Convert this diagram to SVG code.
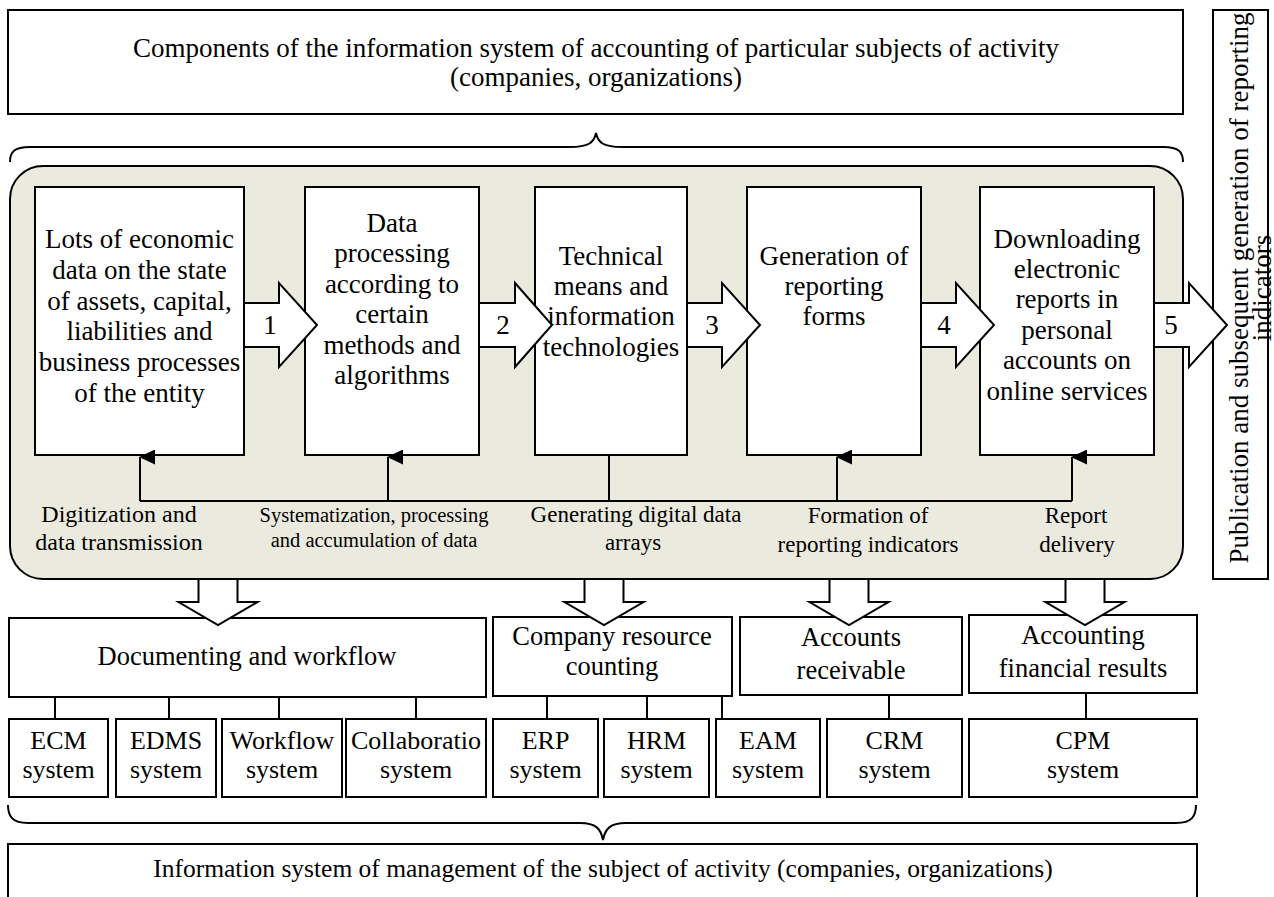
<svg xmlns="http://www.w3.org/2000/svg" width="1274" height="897" viewBox="0 0 1274 897">
<defs>
<style>
.b{fill:#fff;stroke:#000;stroke-width:2}
.t{font-family:"Liberation Serif","Times New Roman",serif;fill:#000;text-anchor:middle}
.f27{font-size:27px}
.f26{font-size:26px}
.f265{font-size:26.5px}
.f25{font-size:25.5px}
.f24{font-size:24px}
.f23{font-size:23px}
.f21{font-size:20.5px}
.ln{fill:none;stroke:#000;stroke-width:2}
.ar{fill:#fff;stroke:#000;stroke-width:2;stroke-linejoin:miter}
</style>
<marker id="tri" markerWidth="15" markerHeight="16" refX="7.5" refY="1" orient="auto-start-reverse" markerUnits="userSpaceOnUse" viewBox="0 0 15 16">
<path d="M0,16 L7.5,0 L15,16 Z" fill="#000"/>
</marker>
</defs>
<rect width="1274" height="897" fill="#fff"/>

<g id="top-box">
<rect class="b" x="8" y="10" width="1175" height="104"/>
<text class="t f27" x="596" y="57">Components of the information system of accounting of particular subjects of activity</text>
<text class="t f27" x="596" y="86">(companies, organizations)</text>
</g>

<g id="top-brace">
<path class="ln" d="M10,162 C10,152 14,147 30,147 L570,147 C588,147 594,143 596,133 C598,143 604,147 622,147 L1163,147 C1179,147 1183,152 1183,162"/>
</g>

<g id="process-area">
<rect x="10" y="166" width="1173" height="413" rx="33" ry="33" fill="#ebeadf" stroke="#000" stroke-width="2"/>
</g>

<g id="publication-box">
<rect class="b" x="1213" y="10" width="55" height="569"/>
<text class="t f27" transform="translate(1248,288) rotate(-90)">Publication and subsequent generation of reporting</text>
<text class="t f27" transform="translate(1271,288) rotate(-90)">indicators</text>
</g>

<g id="box-1">
<rect class="b" x="35" y="187" width="209" height="268"/>
<text class="t f27" x="139.5" y="248">Lots of economic</text>
<text class="t f27" x="139.5" y="279">data on the state</text>
<text class="t f27" x="139.5" y="310">of assets, capital,</text>
<text class="t f27" x="139.5" y="340">liabilities and</text>
<text class="t f27" x="139.5" y="371">business processes</text>
<text class="t f27" x="139.5" y="402">of the entity</text>
</g>

<g id="box-2">
<rect class="b" x="305" y="187" width="174" height="268"/>
<text class="t f27" x="392" y="232">Data</text>
<text class="t f27" x="392" y="262">processing</text>
<text class="t f27" x="392" y="293">according to</text>
<text class="t f27" x="392" y="323">certain</text>
<text class="t f27" x="392" y="354">methods and</text>
<text class="t f27" x="392" y="384">algorithms</text>
</g>

<g id="box-3">
<rect class="b" x="535" y="187" width="152" height="268"/>
<text class="t f27" x="611" y="265">Technical</text>
<text class="t f27" x="611" y="295">means and</text>
<text class="t f27" x="611" y="325">information</text>
<text class="t f27" x="611" y="356">technologies</text>
</g>

<g id="box-4">
<rect class="b" x="747" y="187" width="174" height="268"/>
<text class="t f27" x="834" y="265">Generation of</text>
<text class="t f27" x="834" y="295">reporting</text>
<text class="t f27" x="834" y="325">forms</text>
</g>

<g id="box-5">
<rect class="b" x="980" y="187" width="174" height="268"/>
<text class="t f27" x="1067" y="248">Downloading</text>
<text class="t f27" x="1067" y="278">electronic</text>
<text class="t f27" x="1067" y="308">reports in</text>
<text class="t f27" x="1067" y="339">personal</text>
<text class="t f27" x="1067" y="369">accounts on</text>
<text class="t f27" x="1067" y="400">online services</text>
</g>

<g id="connectors">
<polygon class="ar" points="244,303 279,303 279,283 317,325 279,367 279,347 244,347"/>
<polygon class="ar" points="479,303 515,303 515,283 552,325 515,367 515,347 479,347"/>
<polygon class="ar" points="687,303 722,303 722,283 760,325 722,367 722,347 687,347"/>
<polygon class="ar" points="921,303 956,303 956,283 994,325 956,367 956,347 921,347"/>
<polygon class="ar" points="1154,303 1189,303 1189,283 1227,325 1189,367 1189,347 1154,347"/>
<text class="t f27" x="270" y="334">1</text>
<text class="t f27" x="503" y="334">2</text>
<text class="t f27" x="712" y="334">3</text>
<text class="t f27" x="944" y="334">4</text>
<text class="t f27" x="1171" y="334">5</text>

<path class="ln" d="M140,501 L1072,501 M609,455 L609,501"/>
<line class="ln" x1="140" y1="501" x2="140" y2="457" marker-end="url(#tri)"/>
<line class="ln" x1="388" y1="501" x2="388" y2="457" marker-end="url(#tri)"/>
<line class="ln" x1="837" y1="501" x2="837" y2="457" marker-end="url(#tri)"/>
<line class="ln" x1="1072" y1="501" x2="1072" y2="457" marker-end="url(#tri)"/>

<path class="ln" d="M55,697 V719 M169,697 V719 M279,697 V719 M416,697 V719 M547,696 V719 M647,696 V719 M722,696 V719 M889,695 V719 M1086,693 V719"/>
</g>

<g id="labels">
<text class="t f24" x="119" y="522">Digitization and</text>
<text class="t f24" x="119" y="550">data transmission</text>
<text class="t f21" x="374" y="522">Systematization, processing</text>
<text class="t f21" x="374" y="547">and accumulation of data</text>
<text class="t f23" x="636" y="522">Generating digital data</text>
<text class="t f23" x="633" y="550">arrays</text>
<text class="t f23" x="868" y="523">Formation of</text>
<text class="t f23" x="868" y="552">reporting indicators</text>
<text class="t f23" x="1076" y="523">Report</text>
<text class="t f23" x="1077" y="552">delivery</text>
</g>

<g id="cat-documenting">
<rect class="b" x="9" y="618" width="477" height="79"/>
<text class="t f265" x="247" y="665">Documenting and workflow</text>
</g>
<g id="cat-resource">
<rect class="b" x="493" y="617" width="239" height="79"/>
<text class="t f265" x="612" y="645">Company resource</text>
<text class="t f265" x="612" y="675">counting</text>
</g>
<g id="cat-receivable">
<rect class="b" x="740" y="617" width="222" height="78"/>
<text class="t f265" x="851" y="646">Accounts</text>
<text class="t f265" x="851" y="679">receivable</text>
</g>
<g id="cat-financial">
<rect class="b" x="969" y="615" width="228" height="78"/>
<text class="t f265" x="1083" y="644">Accounting</text>
<text class="t f265" x="1083" y="677">financial results</text>
</g>

<g id="down-arrows">
<polygon class="ar" points="198.5,579 198.5,602 178.5,602 218,625 257.5,602 237.5,602 237.5,579"/>
<polygon class="ar" points="584.5,579 584.5,602 564.5,602 604,625 643.5,602 623.5,602 623.5,579"/>
<polygon class="ar" points="829.5,579 829.5,602 809.5,602 849,625 888.5,602 868.5,602 868.5,579"/>
<polygon class="ar" points="1065.5,579 1065.5,602 1045.5,602 1085,625 1124.5,602 1104.5,602 1104.5,579"/>
</g>

<g id="sys-ecm"><rect class="b" x="9" y="719" width="99" height="78"/><text class="t f26" x="58.5" y="749">ECM</text><text class="t f26" x="58.5" y="778">system</text></g>
<g id="sys-edms"><rect class="b" x="116" y="719" width="100" height="78"/><text class="t f26" x="166" y="749">EDMS</text><text class="t f26" x="166" y="778">system</text></g>
<g id="sys-workflow"><rect class="b" x="222" y="719" width="120" height="78"/><text class="t f26" x="282" y="749">Workflow</text><text class="t f26" x="282" y="778">system</text></g>
<g id="sys-collab"><rect class="b" x="346" y="719" width="140" height="78"/><text class="t f26" x="416" y="749">Collaboratio</text><text class="t f26" x="416" y="778">system</text></g>
<g id="sys-erp"><rect class="b" x="493" y="719" width="105" height="78"/><text class="t f26" x="545.5" y="749">ERP</text><text class="t f26" x="545.5" y="778">system</text></g>
<g id="sys-hrm"><rect class="b" x="604" y="719" width="105" height="78"/><text class="t f26" x="656.5" y="749">HRM</text><text class="t f26" x="656.5" y="778">system</text></g>
<g id="sys-eam"><rect class="b" x="716" y="719" width="104" height="78"/><text class="t f26" x="768" y="749">EAM</text><text class="t f26" x="768" y="778">system</text></g>
<g id="sys-crm"><rect class="b" x="827" y="719" width="135" height="78"/><text class="t f26" x="894.5" y="749">CRM</text><text class="t f26" x="894.5" y="778">system</text></g>
<g id="sys-cpm"><rect class="b" x="969" y="719" width="228" height="78"/><text class="t f26" x="1083" y="749">CPM</text><text class="t f26" x="1083" y="778">system</text></g>

<g id="bottom-brace">
<path class="ln" d="M8,805 C8,816 12,823 28,823 L580,823 C596,823 601,829 603,840 C605,829 610,823 626,823 L1176,823 C1192,823 1196,816 1196,805"/>
</g>

<g id="bottom-box">
<rect class="b" x="8" y="844" width="1189" height="60"/>
<text class="t f25" x="603" y="877">Information system of management of the subject of activity (companies, organizations)</text>
</g>
</svg>
